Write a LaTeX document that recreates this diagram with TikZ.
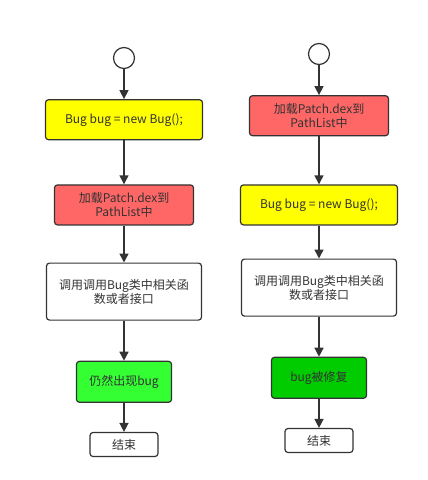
\documentclass[tikz,border=0pt]{standalone}
\usepackage{fontspec}
\setmainfont{Noto Sans CJK SC}
\usetikzlibrary{arrows.meta,calc}
\definecolor{boxline}{HTML}{333333}
\definecolor{codeyellow}{HTML}{FFFF00}
\definecolor{loadred}{HTML}{FF6666}
\definecolor{stillgreen}{HTML}{33FF33}
\definecolor{fixedgreen}{HTML}{00CC00}
\tikzstyle{element}=[draw=boxline, line width=1.2pt, rounded corners=3pt,
  text=boxline, align=center, inner sep=0pt,
  font=\fontsize{12}{14}\selectfont]
\tikzstyle{codebox}=[element, fill=codeyellow, minimum width=157pt,
  minimum height=40pt]
\tikzstyle{loadbox}=[element, fill=loadred, minimum width=139pt,
  minimum height=40pt]
\tikzstyle{callbox}=[element, fill=white, minimum width=155pt,
  minimum height=57pt]
\tikzstyle{resultbox}=[element, minimum width=95pt, minimum height=41pt]
\tikzstyle{endbox}=[element, fill=white, minimum width=68pt,
  minimum height=24pt]
\tikzstyle{startpoint}=[circle, draw=boxline, line width=1.2pt, fill=white,
  minimum size=21pt, inner sep=0pt]
\tikzstyle{line}=[draw=boxline, line width=1.4pt,
  -{Triangle[width=9pt,length=9pt]}]

\begin{document}
\begin{tikzpicture}[x=1pt,y=1pt]
  \useasboundingbox (0,0) rectangle (428,-480);

  % Left flow: patch loaded too late
  \node (l0) [startpoint] at (124,-58) {};
  \path (l0.south)+(0,-30) node (l1) [codebox, anchor=north]
    {Bug bug = new Bug();};
  \path (l1.south)+(0,-44) node (l2) [loadbox, anchor=north]
    {加载Patch.dex到\\PathList中};
  \path (l2.south)+(0,-37) node (l3) [callbox, anchor=north]
    {调用调用Bug类中相关函\\数或者接口};
  \path (l3.south)+(0,-40) node (l4) [resultbox, fill=stillgreen, anchor=north]
    {仍然出现bug};
  \path (l4.south)+(0,-29) node (l5) [endbox, anchor=north] {结束};

  % Right flow: patch loaded first
  \node (r0) [startpoint] at (319,-54) {};
  \path (r0.south)+(0,-30) node (r1) [loadbox, anchor=north]
    {加载Patch.dex到\\PathList中};
  \path (r1.south)+(0,-48) node (r2) [codebox, anchor=north]
    {Bug bug = new Bug();};
  \path (r2.south)+(0,-33) node (r3) [callbox, anchor=north]
    {调用调用Bug类中相关函\\数或者接口};
  \path (r3.south)+(0,-40) node (r4) [resultbox, fill=fixedgreen, anchor=north]
    {bug被修复};
  \path (r4.south)+(0,-29) node (r5) [endbox, anchor=north] {结束};

  % Draw arrows between elements
  \path [line] (l0.south) -- (l1.north);
  \path [line] (l1.south) -- (l2.north);
  \path [line] (l2.south) -- (l3.north);
  \path [line] (l3.south) -- (l4.north);
  \path [line] (l4.south) -- (l5.north);

  \path [line] (r0.south) -- (r1.north);
  \path [line] (r1.south) -- (r2.north);
  \path [line] (r2.south) -- (r3.north);
  \path [line] (r3.south) -- (r4.north);
  \path [line] (r4.south) -- (r5.north);

\end{tikzpicture}
\end{document}
